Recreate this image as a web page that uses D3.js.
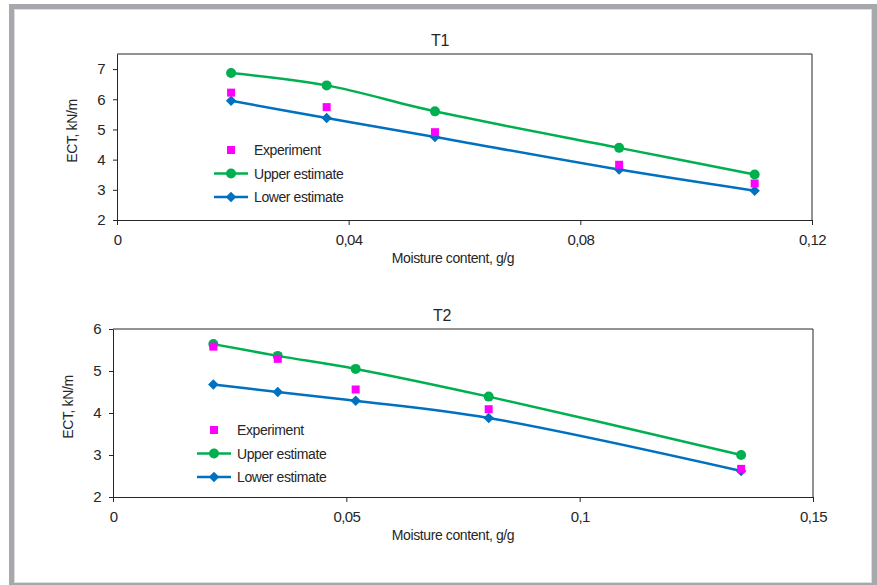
<!DOCTYPE html>
<html>
<head>
<meta charset="utf-8">
<script src="https://cdn.jsdelivr.net/npm/d3@7"></script>
<style>
  body { margin: 0; background: #fff; }
  svg text { font-family: "Liberation Sans Narrow", "Arial Narrow", "Liberation Sans", Arial, sans-serif; fill: #262626; letter-spacing: -0.4px; }
</style>
</head>
<body>
<div id="chart"></div>
<script>
// Values

// T1 panel
const t1Moisture   = [0.0197, 0.0362, 0.0549, 0.0867, 0.1101];
const t1Upper      = [6.87, 6.46, 5.60, 4.39, 3.51];
const t1Lower      = [5.95, 5.38, 4.75, 3.67, 2.97];
const t1Experiment = [6.22, 5.74, 4.91, 3.83, 3.21];
const t1XTicks = [0, 0.04, 0.08, 0.12];
const t1YTicks = [2, 3, 4, 5, 6, 7];

// T2 panel
const t2Moisture   = [0.0215, 0.0353, 0.052, 0.0805, 0.1346];
const t2Upper      = [5.64, 5.36, 5.05, 4.39, 3.00];
const t2Lower      = [4.68, 4.50, 4.29, 3.88, 2.62];
const t2Experiment = [5.58, 5.29, 4.56, 4.09, 2.67];
const t2XTicks = [0, 0.05, 0.1, 0.15];
const t2YTicks = [2, 3, 4, 5, 6];

const seriesNames = ["Experiment", "Upper estimate", "Lower estimate"];

const W = 877, H = 585;
const green = "#00b050", blue = "#0070c0", magenta = "#ff00ff";

const svg = d3.select("#chart")
    .append("svg")
    .attr("width", W)
    .attr("height", H);

// grey frame round the whole picture
svg.append("rect")
    .attr("x", 9).attr("y", 4)
    .attr("width", W - 9).attr("height", H - 4)
    .attr("fill", "#a7a8ac");
svg.append("rect")
    .attr("x", 14).attr("y", 9)
    .attr("width", W - 19).attr("height", H - 11)
    .attr("fill", "#dcdcdc");
svg.append("rect")
    .attr("x", 15).attr("y", 10)
    .attr("width", W - 21).attr("height", H - 13)
    .attr("fill", "#fff");

const fmt = d => d === 0 ? "0" : String(d).replace(".", ",");

function drawPanel(p) {
    const x = d3.scaleLinear().domain(p.xDomain).range([p.left, p.right]);
    const y = d3.scaleLinear().domain(p.yDomain).range([p.bottom, p.top]);
    const g = svg.append("g");

    // plot box (top and right)
    g.append("path")
        .attr("d", `M${p.left},${p.top}H${p.right}V${p.bottom}`)
        .attr("fill", "none")
        .attr("stroke", "#262626")
        .attr("stroke-width", 1);

    // axes
    const xa = g.append("g")
        .attr("transform", `translate(0, ${p.bottom})`)
        .call(d3.axisBottom(x).tickValues(p.xTicks).tickFormat(fmt).tickSize(5).tickSizeOuter(0).tickPadding(9));
    const ya = g.append("g")
        .attr("transform", `translate(${p.left}, 0)`)
        .call(d3.axisLeft(y).tickValues(p.yTicks).tickFormat(d3.format("d")).tickSize(4).tickSizeOuter(0).tickPadding(8));
    [xa, ya].forEach(a => {
        a.select(".domain").attr("stroke", "#262626");
        a.selectAll(".tick line").attr("stroke", "#262626");
        a.selectAll(".tick text")
            .attr("font-size", "15px")
            .attr("fill", "#333")
            .style("letter-spacing", "-0.6px");
    });

    // titles
    g.append("text")
        .attr("x", p.titleX).attr("y", p.top - 8)
        .attr("text-anchor", "middle")
        .attr("font-size", "16px")
        .attr("fill", "#111")
        .text(p.title);
    g.append("text")
        .attr("x", 453).attr("y", p.bottom + 43)
        .attr("text-anchor", "middle")
        .attr("font-size", "14px")
        .text("Moisture content, g/g");
    g.append("text")
        .attr("transform", `translate(${p.left - 40}, ${(p.top + p.bottom) / 2 - 6}) rotate(-90)`)
        .attr("text-anchor", "middle")
        .attr("font-size", "14px")
        .text("ECT, kN/m");

    const line = d3.line()
        .x(d => x(d[0]))
        .y(d => y(d[1]))
        .curve(d3.curveCatmullRom.alpha(0.5));

    const up = p.moisture.map((m, i) => [m, p.upper[i]]);
    const lo = p.moisture.map((m, i) => [m, p.lower[i]]);
    const ex = p.moisture.map((m, i) => [m, p.experiment[i]]);

    g.append("path").datum(up)
        .attr("d", line).attr("fill", "none")
        .attr("stroke", green).attr("stroke-width", 2.5);
    g.append("path").datum(lo)
        .attr("d", line).attr("fill", "none")
        .attr("stroke", blue).attr("stroke-width", 2.5);

    const diamond = d3.symbol().type(d3.symbolDiamond2).size(70);
    g.selectAll(".lo").data(lo).join("path")
        .attr("transform", d => `translate(${x(d[0])}, ${y(d[1])})`)
        .attr("d", diamond).attr("fill", blue);
    g.selectAll(".up").data(up).join("circle")
        .attr("cx", d => x(d[0])).attr("cy", d => y(d[1]))
        .attr("r", 5).attr("fill", green);
    g.selectAll(".ex").data(ex).join("rect")
        .attr("x", d => x(d[0]) - 4).attr("y", d => y(d[1]) - 4)
        .attr("width", 8).attr("height", 8)
        .attr("fill", magenta);

    // legend
    const lg = g.append("g").attr("transform", `translate(${p.legendX}, ${p.legendY})`);
    seriesNames.forEach((name, i) => {
        const row = lg.append("g").attr("transform", `translate(0, ${i * 23.5})`);
        if (i === 0) {
            row.append("rect").attr("x", -4).attr("y", -4).attr("width", 8).attr("height", 8).attr("fill", magenta);
        } else {
            const c = i === 1 ? green : blue;
            row.append("line").attr("x1", -17).attr("x2", 17).attr("stroke", c).attr("stroke-width", 2.5);
            if (i === 1) row.append("circle").attr("r", 5).attr("fill", c);
            else row.append("path").attr("d", diamond).attr("fill", c);
        }
        row.append("text")
            .attr("x", 23).attr("y", 5)
            .attr("font-size", "14px")
            .text(name);
    });
}

drawPanel({
    title: "T1", titleX: 440,
    left: 117, right: 812, top: 54, bottom: 220,
    xDomain: [0, 0.12], yDomain: [2, 7.5],
    xTicks: t1XTicks, yTicks: t1YTicks,
    moisture: t1Moisture, upper: t1Upper, lower: t1Lower, experiment: t1Experiment,
    legendX: 231, legendY: 150
});

drawPanel({
    title: "T2", titleX: 442,
    left: 113, right: 813, top: 329, bottom: 497,
    xDomain: [0, 0.15], yDomain: [2, 6],
    xTicks: t2XTicks, yTicks: t2YTicks,
    moisture: t2Moisture, upper: t2Upper, lower: t2Lower, experiment: t2Experiment,
    legendX: 214, legendY: 430
});
</script>
</body>
</html>
